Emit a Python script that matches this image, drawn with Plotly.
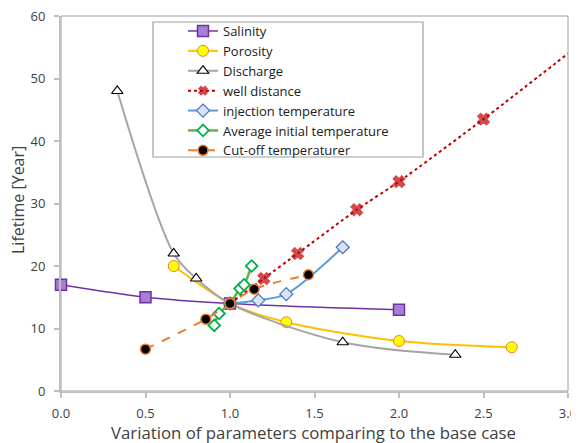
import plotly.graph_objects as go

# Data
sal_x = [0.0, 0.5, 1.0, 2.0]
sal_y = [17.0, 15.0, 14.0, 13.0]

por_x = [0.667, 1.0, 1.333, 2.0, 2.667]
por_y = [20.0, 14.0, 11.0, 8.0, 7.0]

dis_x = [0.333, 0.667, 0.8, 1.0, 1.667, 2.333]
dis_y = [48.0, 22.0, 18.0, 14.0, 7.8, 5.8]

well_x = [1.0, 1.2, 1.4, 1.75, 2.0, 2.5, 3.0]
well_y = [14.0, 18.0, 22.0, 29.0, 33.5, 43.5, 54.0]

inj_x = [1.0, 1.167, 1.333, 1.667]
inj_y = [14.0, 14.5, 15.5, 23.0]

avg_x = [0.907, 0.935, 1.0, 1.059, 1.083, 1.128]
avg_y = [10.5, 12.4, 14.0, 16.4, 17.0, 20.0]

cut_x = [0.5, 0.857, 1.0, 1.143, 1.464]
cut_y = [6.7, 11.5, 14.0, 16.3, 18.6]

x_ticks = [0.0, 0.5, 1.0, 1.5, 2.0, 2.5, 3.0]
y_ticks = [0, 10, 20, 30, 40, 50, 60]

FONT = "Open Sans"
TXT = "#404040"

# page body has an 8px default margin: figure is sized/offset to compensate
OFF = 8
W, H = 579 - OFF, 443 - OFF
L, R, T, B = 61 - OFF, 11, 16 - OFF, 52
PW, PH = W - L - R, H - T - B


def px_x(p):  # window pixel x -> paper
    return (p - 61) / PW


def px_y(p):  # window pixel y -> paper
    return (391 - p) / PH


fig = go.Figure()

fig.add_trace(go.Scatter(
    x=sal_x, y=sal_y, name="Salinity", mode="lines+markers", cliponaxis=False,
    line=dict(color="#7030A0", width=1.5, shape="spline", smoothing=0.8),
    marker=dict(symbol="square", size=11, color="#A47FD6",
                line=dict(color="#7030A0", width=1.5))))

fig.add_trace(go.Scatter(
    x=por_x, y=por_y, name="Porosity", mode="lines+markers",
    line=dict(color="#FFC000", width=2, shape="spline", smoothing=0.8),
    marker=dict(symbol="circle", size=11, color="#FFFF00",
                line=dict(color="#ED7D31", width=1))))

fig.add_trace(go.Scatter(
    x=dis_x, y=dis_y, name="Discharge", mode="lines+markers",
    line=dict(color="#A5A5A5", width=2, shape="spline", smoothing=0.9),
    marker=dict(symbol="triangle-up", size=10, color="white",
                line=dict(color="black", width=1.2))))

well_sizes = [0, 10, 10, 10, 10, 10, 0]
fig.add_trace(go.Scatter(
    x=well_x, y=well_y, name="well distance", mode="lines+markers",
    line=dict(color="#C00000", width=2, dash="dot", shape="spline", smoothing=0.5),
    marker=dict(symbol="x", size=well_sizes, color="#C00000",
                line=dict(color="#C00000", width=1.5))))

fig.add_trace(go.Scatter(
    x=inj_x, y=inj_y, name="injection temperature", mode="lines+markers",
    line=dict(color="#5B9BD5", width=2, shape="spline", smoothing=0.8),
    marker=dict(symbol="diamond", size=10, color="#DAE3F3",
                line=dict(color="#4472C4", width=1.2))))

fig.add_trace(go.Scatter(
    x=avg_x, y=avg_y, name="Average initial temperature", mode="lines+markers",
    line=dict(color="#70AD47", width=2.5, shape="spline", smoothing=0.8),
    marker=dict(symbol="diamond", size=9, color="white",
                line=dict(color="#00B050", width=1.8))))

fig.add_trace(go.Scatter(
    x=cut_x, y=cut_y, name="Cut-off temperaturer", mode="lines+markers",
    line=dict(color="#ED7D31", width=2, dash="dash", shape="spline", smoothing=0.8),
    marker=dict(symbol="circle", size=10, color="black",
                line=dict(color="#ED7D31", width=1.5))))

# plot-area border (top/right)
fig.add_shape(type="rect", xref="paper", yref="paper", x0=0, y0=0, x1=1, y1=1,
              line=dict(color="#A0A0A0", width=1), layer="below")
# legend box
fig.add_shape(type="rect", xref="paper", yref="paper",
              x0=px_x(153), x1=px_x(423), y0=px_y(157), y1=px_y(22),
              line=dict(color="#A0A0A0", width=1.2), fillcolor="white", layer="below")

# axis titles
fig.add_annotation(text="Variation of parameters comparing to the base case",
                   xref="paper", yref="paper", x=px_x(313.5), y=px_y(432.5),
                   xanchor="center", yanchor="middle", showarrow=False,
                   font=dict(family=FONT, size=16.8, color=TXT))
fig.add_annotation(text="Lifetime [Year]", textangle=-90,
                   xref="paper", yref="paper", x=px_x(17.5), y=px_y(200.5),
                   xanchor="center", yanchor="middle", showarrow=False,
                   font=dict(family=FONT, size=16, color=TXT))

fig.update_layout(
    width=W, height=H,
    margin=dict(l=L, r=R, t=T, b=B, autoexpand=False),
    paper_bgcolor="white", plot_bgcolor="white",
    font=dict(family=FONT, color=TXT, size=13),
    showlegend=True,
    legend=dict(x=px_x(183), y=px_y(16), xanchor="left", yanchor="top",
                bgcolor="rgba(0,0,0,0)", borderwidth=0,
                font=dict(family=FONT, size=13, color="#202020"),
                tracegroupgap=0, itemwidth=30),
    xaxis=dict(range=[0, 3], tickvals=x_ticks, ticktext=[f"{v:.1f}" for v in x_ticks],
               automargin=False, ticklabelstandoff=4, ticklabeloverflow="allow",
               showgrid=False, zeroline=False, showline=True, linecolor="#BFBFBF",
               linewidth=2, ticks="outside", ticklen=5, tickcolor="#BFBFBF", tickwidth=1.5,
               tickfont=dict(size=13, color=TXT)),
    yaxis=dict(range=[0, 60], tickvals=y_ticks, automargin=False, ticklabelstandoff=6,
               ticklabeloverflow="allow",
               showgrid=False, zeroline=False, showline=True, linecolor="#BFBFBF",
               linewidth=2, ticks="outside", ticklen=5, tickcolor="#BFBFBF", tickwidth=1.5,
               tickfont=dict(size=13, color=TXT)),
)

fig.write_html("out.html")
